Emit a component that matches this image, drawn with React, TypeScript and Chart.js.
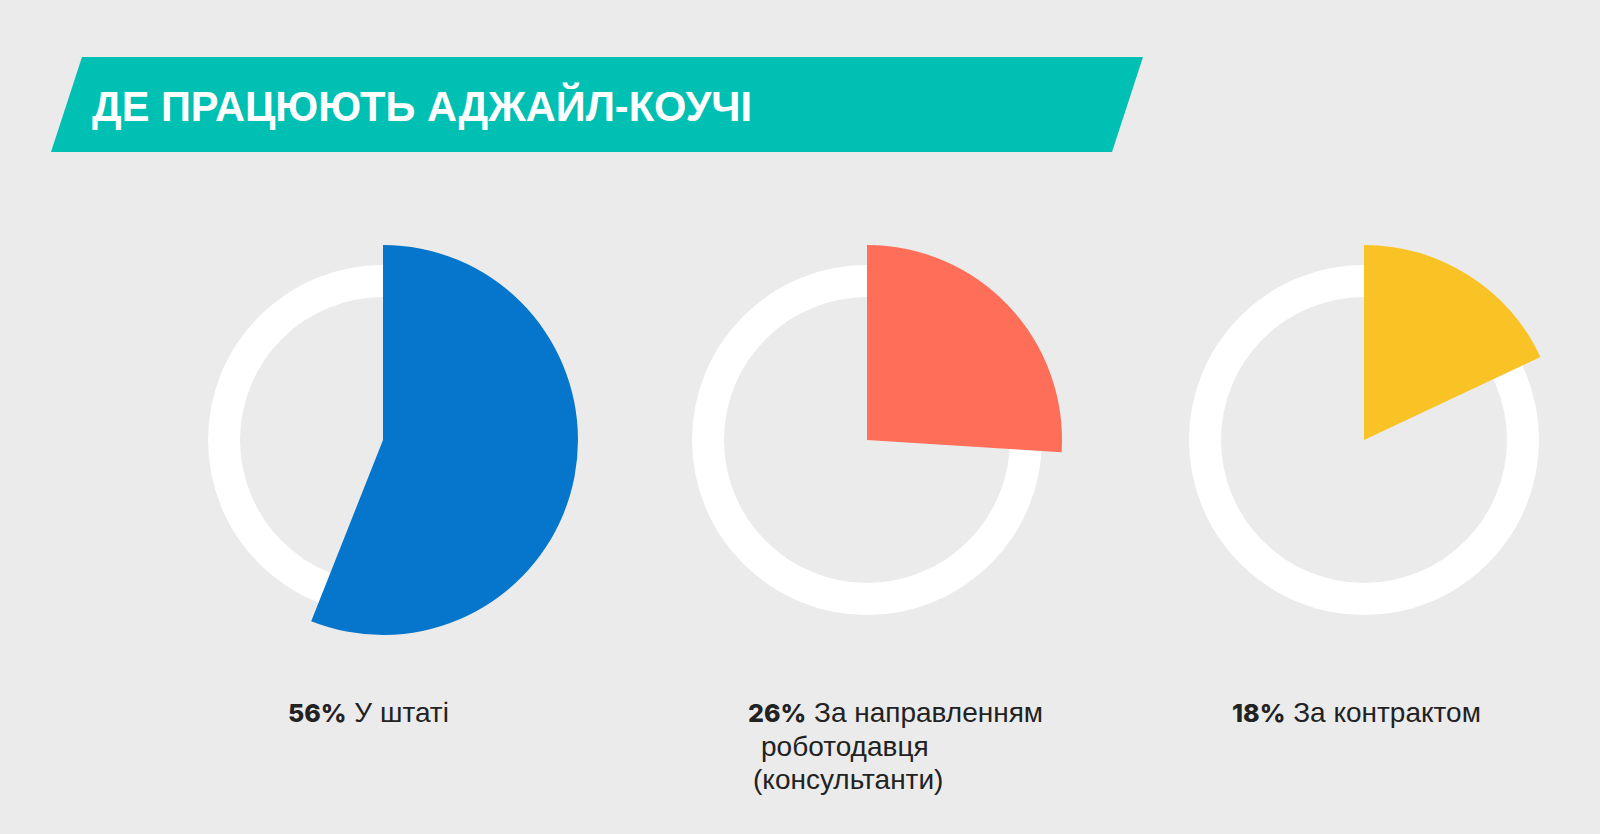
import React, { useEffect, useRef } from "react";
import { Chart, registerables } from "chart.js";

Chart.register(...registerables);

const title = "ДЕ ПРАЦЮЮТЬ АДЖАЙЛ-КОУЧІ";
const categories = ["У штаті", "За направленням роботодавця (консультанти)", "За контрактом"];
const shares = [56, 26, 18];
const shareLabels = ["56%", "26%", "18%"];
const labelLines = [["У штаті"], ["За направленням", "роботодавця", "(консультанти)"], ["За контрактом"]];
const colors = ["#0576cc", "#ff6e58", "#f9c326"];

const CENTERS_X = [383, 867, 1364];
const CENTER_Y = 440;
const BOX = 420;
const LABEL_X = [288, 748, 1232];
const LINE_INDENT = [[0], [0, 13, 5], [0]];

function Pie({ idx }: { idx: number }) {
  const ringRef = useRef<HTMLCanvasElement>(null);
  const sectorRef = useRef<HTMLCanvasElement>(null);
  useEffect(() => {
    const common: any = {
      responsive: false,
      animation: false,
      events: [],
      layout: { padding: 0 },
      plugins: { legend: { display: false }, tooltip: { enabled: false } },
    };
    const ring = new Chart(ringRef.current!, {
      type: "doughnut",
      data: {
        labels: [categories[idx]],
        datasets: [{ data: [100], backgroundColor: ["#ffffff"], borderWidth: 0 }],
      },
      options: { ...common, radius: 175, cutout: "81.7%" },
    });
    const sector = new Chart(sectorRef.current!, {
      type: "pie",
      data: {
        labels: [categories[idx], ""],
        datasets: [
          {
            data: [shares[idx], 100 - shares[idx]],
            backgroundColor: [colors[idx], "rgba(0,0,0,0)"],
            borderWidth: 0,
          },
        ],
      },
      options: { ...common, radius: 195 },
    });
    return () => {
      ring.destroy();
      sector.destroy();
    };
  }, [idx]);
  const style: React.CSSProperties = {
    position: "absolute",
    left: CENTERS_X[idx] - BOX / 2,
    top: CENTER_Y - BOX / 2,
    width: BOX,
    height: BOX,
  };
  return (
    <div style={style}>
      <canvas ref={ringRef} width={BOX} height={BOX} style={{ position: "absolute", left: 0, top: 0 }} />
      <canvas ref={sectorRef} width={BOX} height={BOX} style={{ position: "absolute", left: 0, top: 0 }} />
    </div>
  );
}

export default function App() {
  useEffect(() => {
    document.body.style.margin = "0";
    document.body.style.background = "#ebebeb";
  }, []);
  return (
    <div
      style={{
        position: "relative",
        width: 1600,
        height: 834,
        background: "#ebebeb",
        overflow: "hidden",
        fontFamily: "'Liberation Sans', Arial, sans-serif",
      }}
    >
      <div
        style={{
          position: "absolute",
          left: 0,
          top: 0,
          width: 1600,
          height: 200,
          background: "#00bfb3",
          clipPath: "polygon(82px 57px, 1143px 57px, 1112px 152px, 51px 152px)",
        }}
      />
      <div
        style={{
          position: "absolute",
          left: 92,
          top: 83,
          fontSize: 41.6,
          lineHeight: "48px",
          fontWeight: 700,
          color: "#ffffff",
          whiteSpace: "nowrap",
        }}
      >
        {title}
      </div>
      {shares.map((_, i) => (
        <Pie key={i} idx={i} />
      ))}
      {shares.map((_, i) => (
        <div
          key={"l" + i}
          style={{
            position: "absolute",
            left: LABEL_X[i],
            top: 696,
            fontSize: 28,
            lineHeight: "33px",
            color: "#222222",
            whiteSpace: "nowrap",
          }}
        >
          {labelLines[i].map((line, j) => (
            <div key={j} style={{ paddingLeft: LINE_INDENT[i][j] }}>
              {j === 0 ? (
                <>
                  <span style={{ fontFamily: "Inter", fontWeight: 800, fontSize: 25 }}>{shareLabels[i]}</span>
                  <span> {line}</span>
                </>
              ) : (
                line
              )}
            </div>
          ))}
        </div>
      ))}
    </div>
  );
}
